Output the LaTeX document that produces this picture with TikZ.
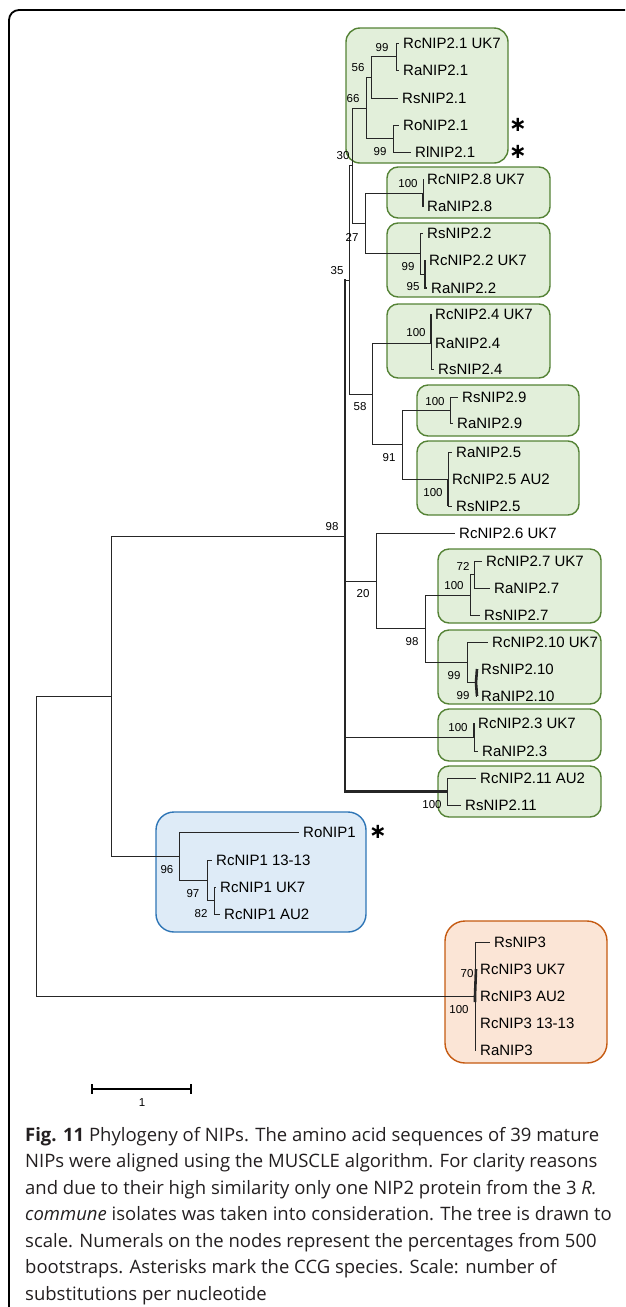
\documentclass[tikz,border=0pt]{standalone}
\usepackage{fontspec}
\setmainfont{Liberation Sans}
\newfontfamily\capfont{Open Sans}
\newfontfamily\starfont{DejaVu Sans}
\definecolor{greenfill}{RGB}{226,239,218}
\definecolor{greenline}{RGB}{84,130,53}
\definecolor{bluefill}{RGB}{222,235,247}
\definecolor{blueline}{RGB}{46,117,182}
\definecolor{orangefill}{RGB}{251,229,214}
\definecolor{orangeline}{RGB}{197,90,17}
\definecolor{capgrey}{RGB}{35,31,32}
\begin{document}
\begin{tikzpicture}[x=1pt, y=-1pt,
  br/.style={line width=1pt, black!85},
  thk/.style={line width=2.6pt, black!85},
  leaf/.style={anchor=west, inner xsep=4pt, inner ysep=0pt, font=\fontsize{15}{18}\selectfont},
  boot/.style={inner sep=0pt, font=\fontsize{11.5}{13}\selectfont},
  star/.style={inner sep=0pt, font=\starfont\bfseries\fontsize{21}{22}\selectfont},
  clade/.style={draw=greenline, fill=greenfill, line width=1.4pt, rounded corners=11pt}]
\useasboundingbox (0,0) rectangle (625,1307);
% frame
\draw[line width=1.8pt, rounded corners=10pt] (9,1307) -- (9,10) -- (625,10);
% clade boxes
\draw[clade, rounded corners=14pt] (346,28) rectangle (508,163);
\foreach \xa/\ya/\xb/\yb in {387/167/550/218, 387/223/550/297, 387/304/550/378,
    417/385/579/436, 417/441/579/515, 438/549/601/623, 438/630/601/704,
    438/709/601/761, 438/766/601/817}
  \draw[clade] (\xa,\ya) rectangle (\xb,\yb);
\draw[clade, draw=blueline, fill=bluefill, rounded corners=18pt] (156,812) rectangle (366,932);
\draw[clade, draw=orangeline, fill=orangefill, rounded corners=20pt] (445,921) rectangle (607,1063);
% leaves
\foreach \n/\x/\y/\t in {rc21/399/43/RcNIP2.1 UK7, ra21/399/70/RaNIP2.1, rs21/398/98/RsNIP2.1,
    ro21/399/125/RoNIP2.1, rl21/411/152/RlNIP2.1, rc28/423/179/RcNIP2.8 UK7, ra28/423/206.5/RaNIP2.8,
    rs22/423/233/RsNIP2.2, rc22/425/260/RcNIP2.2 UK7, ra22/427/288/RaNIP2.2,
    rc24/431/314/RcNIP2.4 UK7, ra24/431/343/RaNIP2.4, rs24/434/369/RsNIP2.4,
    rs29/458/397/RsNIP2.9, ra29/453/423/RaNIP2.9,
    ra25/452/452/RaNIP2.5, rc25/448/479/RcNIP2.5 AU2, rs25/452/506/RsNIP2.5,
    rc26/455/533/RcNIP2.6 UK7,
    rc27/482/561/RcNIP2.7 UK7, ra27/490/588/RaNIP2.7, rs27/480/615/RsNIP2.7,
    rc210/488/642/RcNIP2.10 UK7, rs210/477/669/RsNIP2.10, ra210/477/696/RaNIP2.10,
    rc23/474/723/RcNIP2.3 UK7, ra23/478/751/RaNIP2.3,
    rc211/476/778/RcNIP2.11 AU2, rs211/461/805/RsNIP2.11,
    ro1/299/832/RoNIP1, rc1a/212/860/RcNIP1 13-13, rc1b/216/887/RcNIP1 UK7, rc1c/220/914/RcNIP1 AU2,
    rs3/490/942/RsNIP3, rc3a/476/969/RcNIP3 UK7, rc3b/476/996/RcNIP3 AU2,
    rc3c/476/1023/RcNIP3 13-13, ra3/476/1050/RaNIP3}
  \node[leaf] (\n) at (\x,\y) {\t};
% inner nodes
\foreach \n/\x/\y in {n99a/396/56.5, n56/371/77, n99b/393/138.5, n66/366/108, n30/352/165.5,
    n100a/423/193, n95/425/274, n99c/420/253.5, n27/365/223,
    n100b/431/343, n100c/450/410, n100d/448/479, n91/402/444.5, n58/372/394, n35/349.5/280,
    n72/474/574.5, n100e/470/595, n99d/476/682.5, n99e/467/662, n98b/425/628.5, n20/376/581,
    n100f/474/737, n100g/447/791.5, n98/345/536,
    n82/214/900.5, n97/207/880, n96/179/856, nA/111/696, n100h/475/996, root/36/846}
  \coordinate (\n) at (\x,\y);
% branches
\foreach \p/\c in {n99a/rc21.west, n99a/ra21.west, n56/n99a, n56/rs21.west,
    n99b/ro21.west, n99b/rl21.west, n66/n56, n66/n99b, n30/n66, n30/n27,
    n100a/rc28.west, n100a/ra28.west, n99c/rs22.west, n99c/n95, n27/n100a, n27/n99c,
    n100b/rc24.west, n100b/ra24.west, n100b/rs24.west, n58/n100b, n58/n91,
    n100c/rs29.west, n100c/ra29.west, n91/n100c, n91/n100d,
    n100d/ra25.west, n100d/rc25.west, n100d/rs25.west, n35/n30, n35/n58,
    n72/rc27.west, n72/ra27.west, n100e/n72, n100e/rs27.west,
    n99d/rs210.west, n99d/ra210.west, n99e/rc210.west, n99e/n99d,
    n98b/n100e, n98b/n99e, n20/rc26.west, n20/n98b,
    n100f/rc23.west, n100f/ra23.west, n100g/rc211.west, n100g/rs211.west,
    n98/n35, n98/n20, n98/n100f,
    n82/rc1b.west, n82/rc1c.west, n97/rc1a.west, n97/n82, n96/ro1.west, n96/n97,
    nA/n98, nA/n96,
    n100h/rs3.west, n100h/rc3a.west, n100h/rc3b.west, n100h/rc3c.west, n100h/ra3.west,
    root/nA, root/n100h}
  \draw[br] (\p) |- (\c);
% thick branches
\draw[thk, line cap=rect] (n98 |- n35) |- (n100g);
\draw[thk] (n100a) -- (ra28.west);
\draw[thk] (n95) |- (rc22.west) (n95) |- (ra22.west);
\draw[thk] (n100b) -- (rc24.west);
\draw[thk] (n100d) -- (n100d |- rs25.west);
\draw[thk] (n99d) -- (rs210.west) (n99d) -- (ra210.west);
\draw[thk] (n100f) -- (rc23.west);
\draw[thk] (rc3a.west) -- (n100h) -- ++(0,6);
% bootstrap values
\foreach \x/\y/\t [count=\i] in {382/48/99, 358/68/56, 353/99/66, 380/152/99, 343/156/30,
    408/184/100, 352/237/27, 337/271/35, 408/267/99, 413/287/95, 416/333/100, 435/402/100,
    360/407/58, 389/458/91, 433/493/100, 332/527/98, 463/566/72, 454/586/100, 363/594/20,
    412/642/98, 454/676/99, 463/696/99, 458/728/100, 432/805/100, 167/870/96, 193/894/97,
    201/914/82, 467/974/70, 459/1010/100}
  \node[boot] (bs\i) at (\x,\y) {\t};
% asterisks for CCG species
\node[star] (ast1) at (518,125) {∗};
\node[star] (ast2) at (518,152) {∗};
\node[star] (ast3) at (378,832) {∗};
% scale bar
\draw[line width=1.6pt] (92,1084) -- (92,1094) (92,1089) -- (191,1089) (191,1084) -- (191,1094);
\node[boot] (scale) at (142,1103) {1};
% caption
\node[anchor=north west, align=left, inner sep=0pt, text=capgrey,
  font=\capfont\fontsize{18.5}{26.5}\selectfont] (caption) at (25,1127)
  {\textbf{Fig. 11} Phylogeny of NIPs. The amino acid sequences of 39 mature\\
   NIPs were aligned using the MUSCLE algorithm. For clarity reasons\\
   and due to their high similarity only one NIP2 protein from the 3 \textit{R.}\\
   \textit{commune} isolates was taken into consideration. The tree is drawn to\\
   scale. Numerals on the nodes represent the percentages from 500\\
   bootstraps. Asterisks mark the CCG species. Scale: number of\\
   substitutions per nucleotide};
\end{tikzpicture}
\end{document}
